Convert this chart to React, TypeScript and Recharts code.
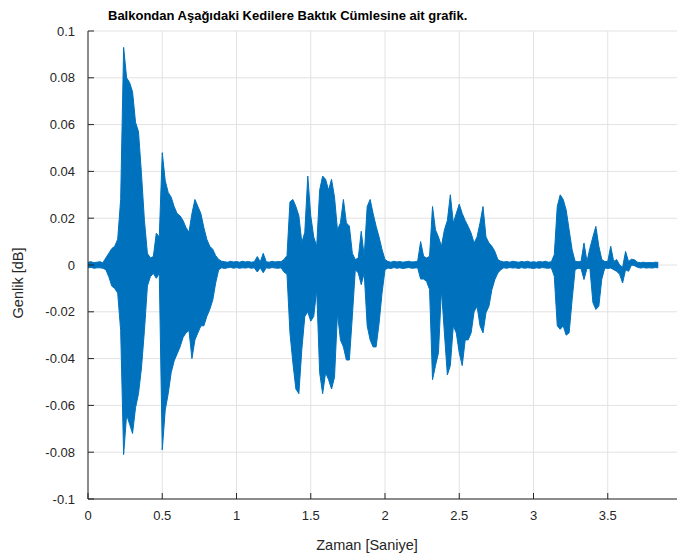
import { ComposedChart, Area, XAxis, YAxis, CartesianGrid } from 'recharts'

const TITLE = 'Balkondan Aşağıdaki Kedilere Baktık Cümlesine ait grafik.'
const X_LABEL = 'Zaman [Saniye]'
const Y_LABEL = 'Genlik [dB]'

// sampling step of the envelope (seconds)
const STEP = 0.02

const X_TICKS = [0, 0.5, 1, 1.5, 2, 2.5, 3, 3.5, 4]
const Y_TICKS = [-0.1, -0.08, -0.06, -0.04, -0.02, 0, 0.02, 0.04, 0.06, 0.08, 0.1]

// upper envelope of the waveform, one value per STEP, from t = 0
const upper = [
  0.0012, 0.0014, 0.0010, 0.0012, 0.0014, 0.0010, 0.003, 0.005, 0.007, 0.008,
  0.011, 0.028, 0.093, 0.080, 0.078, 0.074, 0.061, 0.057, 0.039, 0.019,
  0.005, 0.003, 0.0036, 0.0136, 0.012, 0.048, 0.036, 0.031, 0.029, 0.025,
  0.022, 0.021, 0.019, 0.016, 0.014, 0.022, 0.028, 0.025, 0.022, 0.016,
  0.011, 0.008, 0.0067, 0.004, 0.0024, 0.0016, 0.0014, 0.0012, 0.0016, 0.0013,
  0.0015, 0.0012, 0.0016, 0.0013, 0.0015, 0.0012, 0.0014, 0.0036, 0.0013, 0.005,
  0.0014, 0.0012, 0.0016, 0.0013, 0.0015, 0.0014, 0.0024, 0.004, 0.027, 0.028,
  0.025, 0.021, 0.0096, 0.014, 0.038, 0.021, 0.012, 0.008, 0.032, 0.038,
  0.0366, 0.032, 0.0366, 0.029, 0.015, 0.018, 0.028, 0.018, 0.0166, 0.005,
  0.0023, 0.003, 0.0144, 0.0037, 0.025, 0.028, 0.022, 0.0166, 0.012, 0.0066,
  0.0023, 0.0015, 0.0012, 0.0016, 0.0013, 0.0015, 0.0012, 0.0014, 0.0016, 0.0013,
  0.0014, 0.0016, 0.010, 0.0037, 0.003, 0.0037, 0.025, 0.015, 0.012, 0.008,
  0.015, 0.019, 0.030, 0.018, 0.022, 0.026, 0.022, 0.019, 0.0165, 0.0136,
  0.0094, 0.012, 0.018, 0.025, 0.012, 0.0094, 0.008, 0.0058, 0.0023, 0.0016,
  0.0013, 0.0015, 0.0012, 0.0016, 0.0014, 0.0012, 0.0015, 0.0013, 0.0016, 0.0012,
  0.0014, 0.0012, 0.0015, 0.0013, 0.0016, 0.0012, 0.0014, 0.0044, 0.025, 0.030,
  0.028, 0.0235, 0.015, 0.0065, 0.0016, 0.0014, 0.0015, 0.0094, 0.0015, 0.0072,
  0.012, 0.0165, 0.008, 0.0023, 0.0015, 0.0015, 0.008, 0.0015, 0.0023, 0.0,
  -0.001, 0.0058, 0.0015, 0.0025, 0.0022, 0.0012, 0.0010, 0.0012, 0.0010, 0.0011,
  0.0010, 0.0012, 0.0011,
]

// lower envelope, same sampling
const lower = [
  -0.0012, -0.0010, -0.0014, -0.0012, -0.0012, -0.0014, -0.002, -0.005, -0.009, -0.010,
  -0.012, -0.028, -0.081, -0.064, -0.068, -0.072, -0.061, -0.055, -0.044, -0.028,
  -0.009, -0.005, -0.0036, -0.0057, -0.0036, -0.079, -0.062, -0.055, -0.046, -0.041,
  -0.038, -0.035, -0.031, -0.029, -0.028, -0.040, -0.032, -0.029, -0.026, -0.026,
  -0.022, -0.019, -0.015, -0.0076, -0.002, -0.0012, -0.0015, -0.0012, -0.0010, -0.0014,
  -0.0011, -0.0014, -0.0012, -0.0013, -0.0011, -0.0014, -0.0012, -0.003, -0.0012, -0.0033,
  -0.0012, -0.0014, -0.0011, -0.0013, -0.0014, -0.0012, -0.003, -0.004, -0.029, -0.042,
  -0.053, -0.055, -0.036, -0.022, -0.020, -0.024, -0.022, -0.0106, -0.046, -0.055,
  -0.046, -0.049, -0.053, -0.048, -0.0206, -0.032, -0.035, -0.0406, -0.0406, -0.022,
  -0.002, -0.0034, -0.0084, -0.0034, -0.026, -0.032, -0.035, -0.035, -0.025, -0.012,
  -0.002, -0.0013, -0.0015, -0.0011, -0.0014, -0.0012, -0.0015, -0.0013, -0.0011, -0.0014,
  -0.0013, -0.0012, -0.006, -0.006, -0.007, -0.0105, -0.049, -0.043, -0.0375, -0.0105,
  -0.029, -0.047, -0.043, -0.026, -0.029, -0.0375, -0.043, -0.032, -0.032, -0.029,
  -0.020, -0.0176, -0.026, -0.029, -0.0204, -0.0176, -0.0105, -0.0062, -0.0034, -0.002,
  -0.0012, -0.0014, -0.0011, -0.0013, -0.0012, -0.0015, -0.0011, -0.0014, -0.0012, -0.0013,
  -0.0015, -0.0012, -0.0014, -0.0011, -0.0013, -0.0014, -0.0012, -0.0048, -0.026, -0.0275,
  -0.026, -0.030, -0.029, -0.0148, -0.002, -0.0014, -0.0015, -0.0062, -0.0015, -0.0015,
  -0.016, -0.019, -0.0176, -0.006, -0.0013, -0.0015, -0.0013, -0.002, -0.0027, -0.004,
  -0.0077, -0.002, -0.0027, 0.0, -0.0003, -0.0010, -0.0013, -0.0011, -0.0013, -0.0012,
  -0.0013, -0.0011, -0.0012,
]

const data = upper.map((hi, i) => ({
  t: Number((i * STEP).toFixed(2)),
  range: [lower[i], hi],
}))

const AXIS = '#262626'
const BLUE = '#0072bd'
const FONT = '"Liberation Sans", Arial, Helvetica, sans-serif'
const TICK_LEN = 6

const fmt = (v: number) => String(Number(v.toFixed(2)))

const BottomTick = ({ x, y, payload }: any) => (
  <g>
    <line x1={x} x2={x} y1={y} y2={y - TICK_LEN} stroke={AXIS} />
    <text x={x} y={y + 21} textAnchor="middle" fill={AXIS} fontSize={13} fontFamily={FONT}>
      {fmt(payload.value)}
    </text>
  </g>
)

const TopTick = ({ x, y }: any) => (
  <line x1={x} x2={x} y1={y} y2={y + TICK_LEN} stroke={AXIS} />
)

const LeftTick = ({ x, y, payload }: any) => (
  <g>
    <line x1={x} x2={x + TICK_LEN} y1={y} y2={y} stroke={AXIS} />
    <text x={x - 13} y={y + 4.5} textAnchor="end" fill={AXIS} fontSize={13} fontFamily={FONT}>
      {fmt(payload.value)}
    </text>
  </g>
)

export default function App() {
  return (
    <div style={{ position: 'absolute', left: 0, top: 0, width: 677, height: 556, overflow: 'hidden', background: '#fff' }}>
      <ComposedChart width={700} height={556} data={data} margin={{ top: 31, right: 18, bottom: 17, left: 8 }}>
        <CartesianGrid xAxisId="b" stroke="#e2e2e2" ticks={undefined} />
        <XAxis
          xAxisId="b"
          dataKey="t"
          type="number"
          domain={[0, 4]}
          ticks={X_TICKS}
          interval={0}
          allowDataOverflow
          height={40}
          tickSize={0}
          tickMargin={0}
          tickLine={false}
          axisLine={{ stroke: AXIS }}
          tick={<BottomTick />}
        />
        <XAxis
          xAxisId="top"
          orientation="top"
          dataKey="t"
          type="number"
          domain={[0, 4]}
          ticks={X_TICKS}
          interval={0}
          allowDataOverflow
          height={0}
          tickSize={0}
          tickMargin={0}
          tickLine={false}
          axisLine={{ stroke: AXIS }}
          tick={<TopTick />}
        />
        <YAxis
          type="number"
          domain={[-0.1, 0.1]}
          ticks={Y_TICKS}
          interval={0}
          allowDataOverflow
          width={80}
          tickSize={0}
          tickMargin={0}
          tickLine={false}
          axisLine={{ stroke: AXIS }}
          tick={<LeftTick />}
        />
        <Area
          xAxisId="b"
          dataKey="range"
          type="linear"
          stroke={BLUE}
          strokeWidth={1}
          fill={BLUE}
          fillOpacity={1}
          dot={false}
          activeDot={false}
          isAnimationActive={false}
        />
      </ComposedChart>
      <svg width={677} height={556} style={{ position: 'absolute', left: 0, top: 0, pointerEvents: 'none' }}>
        <text x={108} y={19.5} fontSize={13} fontWeight="bold" fill="#000" fontFamily={FONT}>
          {TITLE}
        </text>
        <text x={367} y={550} fontSize={14.5} textAnchor="middle" fill={AXIS} fontFamily={FONT}>
          {X_LABEL}
        </text>
        <text transform="translate(23,283) rotate(-90)" fontSize={14.5} textAnchor="middle" fill={AXIS} fontFamily={FONT}>
          {Y_LABEL}
        </text>
      </svg>
    </div>
  )
}
